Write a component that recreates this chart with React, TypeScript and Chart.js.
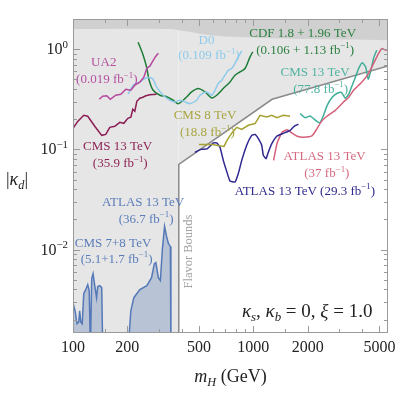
import React, { useEffect, useRef } from "react";
import { Chart, registerables } from "chart.js";
Chart.register(...registerables);

const X_MIN = 100;
const X_MAX = 5580;
const Y_MIN = 0.00147;
const Y_MAX = 2;

// UA2 (0.019 fb^-1)
const UA2_M = [139.8, 146.2, 153.9, 161, 172.7, 184.1, 196.3, 209.3, 220.2, 234.8, 247.1, 256.8, 266.7, 279, 288, 297.4];
const UA2_K = [0.316, 0.339, 0.343, 0.316, 0.347, 0.355, 0.398, 0.389, 0.437, 0.468, 0.525, 0.646, 0.676, 0.776, 0.851, 0.912];

// CMS 13 TeV (35.9 fb^-1)
const CMS13A_M = [100, 106.2, 114.7, 120.7, 132, 144.3, 151.9, 160, 170.5, 181.7, 191.3, 201.4, 209.3, 214.7, 220.2, 225.9, 234.8, 243.9, 253.4, 266.7, 290.6];
const CMS13A_K = [0.162, 0.19, 0.219, 0.214, 0.17, 0.138, 0.141, 0.166, 0.17, 0.186, 0.182, 0.204, 0.209, 0.251, 0.24, 0.302, 0.324, 0.331, 0.343, 0.351, 0.355];

// D0 (0.109 fb^-1)
const D0_M = [202.2, 215.4, 234.8, 250.3, 266.7, 278.3, 290.6, 316.2, 344.5, 367.3, 391.6, 422.8, 444.9, 484.8, 505.8, 551, 587.5, 612.8, 639.3, 667.5, 696.4, 726.4, 758.6, 791.1, 825.4, 862.2];
const D0_K = [0.355, 0.437, 0.471, 0.509, 0.521, 0.498, 0.42, 0.347, 0.309, 0.297, 0.309, 0.295, 0.286, 0.309, 0.347, 0.374, 0.347, 0.389, 0.454, 0.49, 0.55, 0.617, 0.641, 0.72, 0.838, 0.962];

// CDF 1.8 + 1.96 TeV
const CDF_M = [229.7, 244.9, 255.7, 264.4, 278.3, 303.2, 330.3, 359.4, 383.1, 417.6, 454.9, 494.9, 539.3, 587.5, 626.2, 681.3, 742.3, 791.1, 843.6, 899.1, 958.7, 992.4];
const CDF_K = [1.175, 0.871, 0.665, 0.49, 0.389, 0.347, 0.335, 0.309, 0.286, 0.321, 0.374, 0.405, 0.374, 0.326, 0.347, 0.405, 0.471, 0.55, 0.593, 0.641, 0.838, 0.94];

// CMS 8 TeV (18.8 fb^-1)
const CMS8_M = [499.3, 589.8, 687.5, 714.3, 758.6, 808.7, 862.2, 937.9, 1022, 1090, 1187, 1266, 1349, 1468, 1599];
const CMS8_K = [0.112, 0.112, 0.107, 0.123, 0.145, 0.166, 0.158, 0.174, 0.181, 0.219, 0.21, 0.219, 0.207, 0.219, 0.214];

// ATLAS 13 TeV (29.3 fb^-1)
const ATLAS29_M = [474.3, 512.2, 553.2, 599.6, 626.2, 653.1, 681.3, 711.6, 742.3, 791.1, 825.4, 862.2, 918.9, 979.7, 1022, 1066, 1113, 1136, 1177, 1202, 1266, 1349, 1462, 1599, 1683, 1778];
const ATLAS29_K = [0.0933, 0.1, 0.101, 0.116, 0.116, 0.105, 0.0776, 0.0603, 0.0484, 0.0473, 0.0575, 0.0776, 0.11, 0.138, 0.141, 0.128, 0.11, 0.0871, 0.0807, 0.0906, 0.114, 0.135, 0.144, 0.155, 0.17, 0.178];

// ATLAS 13 TeV (37 fb^-1)
const ATLAS37_M = [1295, 1354, 1444, 1539, 1641, 1750, 1896, 2111, 2259, 2377, 2556, 2844, 3162, 3372, 3594, 4001, 4355, 4642, 4949, 5169, 5393, 5602];
const ATLAS37_K = [0.0776, 0.115, 0.148, 0.157, 0.145, 0.135, 0.132, 0.136, 0.162, 0.188, 0.214, 0.245, 0.297, 0.329, 0.389, 0.471, 0.571, 0.72, 0.906, 1.016, 0.977, 0.993];

// CMS 13 TeV (77.8 fb^-1)
const CMS13B_M = [1818, 1937, 2065, 2174, 2332, 2439, 2567, 2737, 2917, 3070, 3231, 3380, 3535, 3697, 3840, 4017, 4201, 4337, 4489, 4642, 4835];
const CMS13B_K = [0.227, 0.207, 0.215, 0.2, 0.184, 0.214, 0.275, 0.331, 0.363, 0.372, 0.324, 0.355, 0.437, 0.537, 0.646, 0.733, 0.661, 0.501, 0.617, 0.813, 0.977];

// CMS 7+8 TeV (5.1+1.7 fb^-1)
const CMS78_M = [100, 102.9, 105.2, 107.6, 108.9, 110.4, 112.5, 114.7, 117.6, 120.7, 123, 124.9, 127, 129.2, 132, 135.1, 137.1, 140.7, 144.3, 146.2];
const CMS78_K = [0.00295, 0.0024, 0.00182, 0.0019, 0.00245, 0.0019, 0.00182, 0.00363, 0.00398, 0.00447, 0.00389, 0.001, 0.00513, 0.00575, 0.00437, 0.00331, 0.00427, 0.00437, 0.00417, 0.001];

// ATLAS 13 TeV (36.7 fb^-1)
const ATLAS36_M = [202.2, 209.3, 217.4, 234.8, 256.8, 272.6, 282.5, 288, 297.4, 305.1, 313, 321.9, 330.3, 338, 346.7, 349];
const ATLAS36_K = [0.001, 0.00245, 0.00331, 0.00398, 0.00437, 0.00525, 0.00724, 0.00741, 0.00525, 0.0049, 0.01, 0.017, 0.0135, 0.0115, 0.0107, 0.001];

// Flavor bound boundary (excluded above)
const FLAVOR_M = [100, 386, 386, 1271, 5580];
const FLAVOR_K = [Y_MIN, Y_MIN, 0.0708, 0.316, 0.68];

// Perturbativity band (top)
const PERT_M = [100, 345, 445, 575, 844, 1818, 5580];
const PERT_K = [1.585, 1.585, 1.48, 1.38, 1.32, 1.26, 1.23];

// Axis ticks
const X_MAJOR = [100, 200, 500, 1000, 2000, 5000];
const X_MAJOR_LABELS = ["100", "200", "500", "1000", "2000", "5000"];
const X_MINOR = [150, 300, 400, 600, 700, 800, 900, 1500, 3000, 4000];
const Y_MAJOR = [1, 0.1, 0.01];
const Y_MAJOR_LABELS = ["10^{0}", "10^{−1}", "10^{−2}"];
const Y_MINOR = [0.002, 0.003, 0.004, 0.005, 0.006, 0.007, 0.008, 0.009, 0.02, 0.03, 0.04, 0.05, 0.06, 0.07, 0.08, 0.09, 0.2, 0.3, 0.4, 0.5, 0.6, 0.7, 0.8, 0.9];

// Annotations: text, mass, kappa, colour
const LABEL_TEXT = [
  "UA2", "(0.019 fb^{−1})",
  "D0", "(0.109 fb^{−1})",
  "CDF 1.8 + 1.96 TeV", "(0.106 + 1.13 fb^{−1})",
  "CMS 13 TeV", "(77.8 fb^{−1})",
  "CMS 8 TeV", "(18.8 fb^{−1})",
  "ATLAS 13 TeV", "(37 fb^{−1})",
  "ATLAS 13 TeV (29.3 fb^{−1})",
  "CMS 13 TeV", "(35.9 fb^{−1})",
  "ATLAS 13 TeV", "(36.7 fb^{−1})",
  "CMS 7+8 TeV", "(5.1+1.7 fb^{−1})",
];
const LABEL_M = [148.1, 153.9, 549.5, 567.4, 1876, 1937, 2202, 2362, 539.3, 556.8, 2486, 2556, 1930, 176.6, 182.8, 244.9, 254.4, 166.8, 174.5];
const LABEL_K = [0.741, 0.501, 1.23, 0.871, 1.462, 0.993, 0.593, 0.405, 0.219, 0.149, 0.0871, 0.058, 0.0389, 0.108, 0.073, 0.0297, 0.0203, 0.0118, 0.0081];
const LABEL_COLOR = [
  "#b5509f", "#b5509f",
  "#8ecbea", "#8ecbea",
  "#2a8040", "#2a8040",
  "#4fb3a0", "#4fb3a0",
  "#a8a540", "#a8a540",
  "#d46a80", "#d46a80",
  "#2f2a8e",
  "#8e2457", "#8e2457",
  "#5a7dba", "#5a7dba",
  "#5a7dba", "#5a7dba",
];

const FLAVOR_TEXT = "Flavor Bounds";
const FLAVOR_POS = [433.8, 0.00955];
const PARAM_TEXT = "~{κ}_{s}, ~{κ}_{b} = 0, ~{ξ} = 1.0";
const PARAM_POS = [1988, 0.00245];

const FONT = '"Liberation Serif", "Times New Roman", serif';

type Seg = { t: string; k: string; w?: number };
function parse(text: string): Seg[] {
  const out: Seg[] = [];
  text.split(/(\^\{[^}]*\}|_\{[^}]*\}|~\{[^}]*\})/).forEach((p) => {
    if (!p) return;
    if (p.startsWith("^{")) out.push({ t: p.slice(2, -1), k: "sup" });
    else if (p.startsWith("_{")) out.push({ t: p.slice(2, -1), k: "sub" });
    else if (p.startsWith("~{")) out.push({ t: p.slice(2, -1), k: "it" });
    else out.push({ t: p, k: "n" });
  });
  return out;
}

function drawRich(ctx: CanvasRenderingContext2D, text: string, x: number, y: number, size: number, color: string, align: string) {
  const segs = parse(text);
  const fontFor = (s: Seg) => {
    const small = s.k === "sup" || s.k === "sub";
    const sz = small ? size * 0.68 : size;
    const it = s.k === "it" || s.k === "sub";
    return `${it ? "italic " : ""}${sz}px ${FONT}`;
  };
  let w = 0;
  segs.forEach((s) => {
    ctx.font = fontFor(s);
    s.w = ctx.measureText(s.t).width;
    w += s.w;
  });
  let cx = align === "center" ? x - w / 2 : align === "right" ? x - w : x;
  const base = y + size * 0.32;
  ctx.fillStyle = color;
  ctx.textBaseline = "alphabetic";
  ctx.textAlign = "left";
  segs.forEach((s) => {
    ctx.font = fontFor(s);
    const dy = s.k === "sup" ? -size * 0.42 : s.k === "sub" ? size * 0.22 : 0;
    ctx.fillText(s.t, cx, base + dy);
    cx += s.w || 0;
  });
}

export default function App() {
  const ref = useRef<HTMLCanvasElement>(null);
  useEffect(() => {
    const canvas = ref.current!;
    const pts = (m: number[], k: number[]) => m.map((x, i) => ({ x, y: k[i] }));
    const line = (label: string, m: number[], k: number[], color: string, extra: any = {}) => ({
      label,
      data: pts(m, k),
      borderColor: color,
      borderWidth: 1.5,
      pointRadius: 0,
      fill: false,
      tension: 0,
      order: 0,
      ...extra,
    });

    const decor = {
      id: "decor",
      afterDatasetsDraw(chart: any) {
        const ctx: CanvasRenderingContext2D = chart.ctx;
        const xs = chart.scales.x;
        const ys = chart.scales.y;
        ctx.save();
        LABEL_TEXT.forEach((t, i) => {
          drawRich(ctx, t, xs.getPixelForValue(LABEL_M[i]), ys.getPixelForValue(LABEL_K[i]), 13, LABEL_COLOR[i], "center");
        });
        ctx.save();
        ctx.translate(xs.getPixelForValue(FLAVOR_POS[0]), ys.getPixelForValue(FLAVOR_POS[1]));
        ctx.rotate(-Math.PI / 2);
        drawRich(ctx, FLAVOR_TEXT, 0, 0, 12.5, "#a3a3a3", "center");
        ctx.restore();
        drawRich(ctx, PARAM_TEXT, xs.getPixelForValue(PARAM_POS[0]), ys.getPixelForValue(PARAM_POS[1]), 19, "#222", "center");
        ctx.restore();
      },
      afterDraw(chart: any) {
        const ctx: CanvasRenderingContext2D = chart.ctx;
        const a = chart.chartArea;
        const xs = chart.scales.x;
        const ys = chart.scales.y;
        ctx.save();
        ctx.strokeStyle = "#9a9a9a";
        ctx.lineWidth = 1;
        ctx.strokeRect(a.left + 0.5, a.top + 0.5, a.right - a.left - 1, a.bottom - a.top - 1);
        const tick = (x1: number, y1: number, x2: number, y2: number) => {
          ctx.beginPath();
          ctx.moveTo(x1, y1);
          ctx.lineTo(x2, y2);
          ctx.stroke();
        };
        const xTicks = (vals: number[], len: number) =>
          vals.forEach((v) => {
            const px = Math.round(xs.getPixelForValue(v)) + 0.5;
            tick(px, a.bottom, px, a.bottom - len);
            tick(px, a.top, px, a.top + len);
          });
        const yTicks = (vals: number[], len: number) =>
          vals.forEach((v) => {
            const py = Math.round(ys.getPixelForValue(v)) + 0.5;
            tick(a.left, py, a.left + len, py);
            tick(a.right, py, a.right - len, py);
          });
        xTicks(X_MAJOR, 7);
        xTicks(X_MINOR, 4);
        yTicks(Y_MAJOR, 7);
        yTicks(Y_MINOR, 4);

        X_MAJOR.forEach((v, i) => {
          drawRich(ctx, X_MAJOR_LABELS[i], xs.getPixelForValue(v), a.bottom + 14, 16, "#222", "center");
        });
        Y_MAJOR.forEach((v, i) => {
          drawRich(ctx, Y_MAJOR_LABELS[i], a.left - 5, ys.getPixelForValue(v), 16, "#222", "right");
        });
        drawRich(ctx, "~{m}_{H} (GeV)", (a.left + a.right) / 2, a.bottom + 43, 18, "#222", "center");
        drawRich(ctx, "|~{κ}_{d}|", 17, (a.top + a.bottom) / 2 + 3, 18, "#222", "center");
        ctx.restore();
      },
    };

    const chart = new Chart(canvas, {
      type: "line",
      data: {
        datasets: [
          line("Perturbativity", PERT_M, PERT_K, "rgba(0,0,0,0)", {
            fill: "end",
            backgroundColor: "#d0d0d0",
            borderWidth: 0,
            tension: 0.3,
            order: 20,
          }),
          line("Flavor", FLAVOR_M, FLAVOR_K, "#8a8a8a", {
            fill: "end",
            backgroundColor: "#e6e6e6",
            order: 21,
            segment: {
              borderColor: (c: any) => (c.p0DataIndex === 0 ? "rgba(0,0,0,0)" : "#8a8a8a"),
            },
          }),
          line("CMS 7+8 TeV", CMS78_M, CMS78_K, "#5579b8", {
            fill: "start",
            backgroundColor: "rgba(80,115,180,0.3)",
            order: 5,
          }),
          line("ATLAS 13 TeV (36.7)", ATLAS36_M, ATLAS36_K, "#5579b8", {
            fill: "start",
            backgroundColor: "rgba(80,115,180,0.3)",
            order: 5,
          }),
          line("UA2", UA2_M, UA2_K, "#b5479e"),
          line("CMS 13 TeV (35.9)", CMS13A_M, CMS13A_K, "#8c1d55"),
          line("D0", D0_M, D0_K, "#8ecbea", { tension: 0.25 }),
          line("CDF", CDF_M, CDF_K, "#1f7d3a", { tension: 0.25 }),
          line("CMS 8 TeV", CMS8_M, CMS8_K, "#a5a232"),
          line("ATLAS 13 TeV (29.3)", ATLAS29_M, ATLAS29_K, "#2e2790", { tension: 0.15 }),
          line("ATLAS 13 TeV (37)", ATLAS37_M, ATLAS37_K, "#d5607a", { tension: 0.15 }),
          line("CMS 13 TeV (77.8)", CMS13B_M, CMS13B_K, "#3fae98", { tension: 0.15 }),
        ],
      },
      options: {
        animation: false,
        responsive: false,
        maintainAspectRatio: false,
        layout: { padding: { left: 73, top: 19, right: 19, bottom: 74 } },
        scales: {
          x: { type: "logarithmic", min: X_MIN, max: X_MAX, display: false },
          y: { type: "logarithmic", min: Y_MIN, max: Y_MAX, display: false },
        },
        plugins: {
          legend: { display: false },
          tooltip: { enabled: false },
        },
      } as any,
      plugins: [decor],
    });
    return () => chart.destroy();
  }, []);

  return (
    <div style={{ position: "absolute", left: 0, top: 0, width: 407, height: 407, background: "#fff" }}>
      <canvas ref={ref} width={407} height={407} style={{ display: "block", width: 407, height: 407 }} />
    </div>
  );
}
